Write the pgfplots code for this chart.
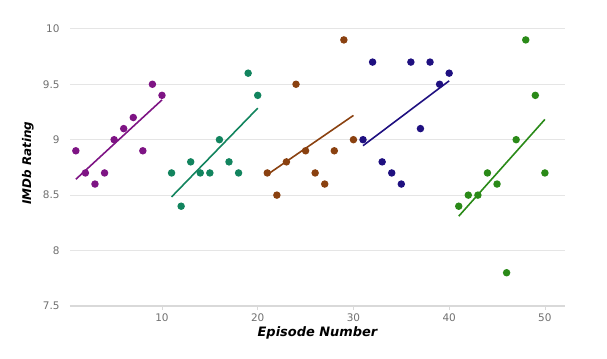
\documentclass[border=0pt]{standalone}
\usepackage{fontspec}
\setmainfont{DejaVu Sans}
\usepackage{pgfplots}
\pgfplotsset{compat=1.18}

\definecolor{sone}{HTML}{7E1484}
\definecolor{stwo}{HTML}{12845E}
\definecolor{sthree}{HTML}{8A4110}
\definecolor{sfour}{HTML}{1F1080}
\definecolor{sfive}{HTML}{2A8A18}
\definecolor{tickgray}{HTML}{707070}

\begin{document}
\begin{tikzpicture}
\begin{axis}[
  name=main,
  scale only axis,
  width=495bp, height=306bp,
  xmin=0.39, xmax=52.1,
  ymin=7.5, ymax=10.26,
  axis x line*=bottom,
  axis y line*=left,
  x axis line style={draw=black!15, line width=1.2pt, -},
  y axis line style={draw=none},
  xtick={10,20,30,40,50},
  ytick={7.5,8,8.5,9,9.5,10},
  yticklabels={7.5,8,8.5,9,9.5,10},
  major tick length=4pt,
  xtick style={draw=black!15, line width=0.8pt},
  ytick style={draw=none},
  tick align=outside,
  ymajorgrids,
  grid style={draw=black!10, line width=0.7pt},
  ticklabel style={font=\fontsize{10.5}{12}\selectfont, text=tickgray},
  /pgf/number format/assume math mode=true,
  yticklabel style={anchor=east, xshift=-3pt},
  xlabel={\bfseries\itshape Episode Number},
  ylabel={\bfseries\itshape IMDb Rating},
  xlabel style={font=\fontsize{13}{15}\selectfont,
    at={(axis description cs:0.5,-0.088)}, anchor=center},
  ylabel style={font=\fontsize{12}{14}\selectfont,
    at={(axis description cs:-0.085,0.467)}, anchor=center},
  clip=false,
  every axis plot/.append style={line width=1.6pt},
]
% season 1
\addplot[only marks, mark=*, mark size=2.9pt, color=sone] coordinates {
  (1,8.9) (2,8.7) (3,8.6) (4,8.7) (5,9.0) (6,9.1) (7,9.2) (8,8.9) (9,9.5) (10,9.4)};
\addplot[sone, no marks] coordinates {(1,8.643) (10,9.359)};
% season 2
\addplot[only marks, mark=*, mark size=2.9pt, color=stwo] coordinates {
  (11,8.7) (12,8.4) (13,8.8) (14,8.7) (15,8.7) (16,9.0) (17,8.8) (18,8.7) (19,9.6) (20,9.4)};
\addplot[stwo, no marks] coordinates {(11,8.484) (20,9.284)};
% season 3
\addplot[only marks, mark=*, mark size=2.9pt, color=sthree] coordinates {
  (21,8.7) (22,8.5) (23,8.8) (24,9.5) (25,8.9) (26,8.7) (27,8.6) (28,8.9) (29,9.9) (30,9.0)};
\addplot[sthree, no marks] coordinates {(21,8.685) (30,9.219)};
% season 4
\addplot[only marks, mark=*, mark size=2.9pt, color=sfour] coordinates {
  (31,9.0) (32,9.7) (33,8.8) (34,8.7) (35,8.6) (36,9.7) (37,9.1) (38,9.7) (39,9.5) (40,9.6)};
\addplot[sfour, no marks] coordinates {(31,8.946) (40,9.531)};
% season 5
\addplot[only marks, mark=*, mark size=2.9pt, color=sfive] coordinates {
  (41,8.4) (42,8.5) (43,8.5) (44,8.7) (45,8.6) (46,7.8) (47,9.0) (48,9.9) (49,9.4) (50,8.7)};
\addplot[sfive, no marks] coordinates {(41,8.31) (50,9.183)};
\end{axis}
% white margins as in the reference
\path (main.south west) ++(-70bp,-53bp) (main.north east) ++(42bp,0);
\end{tikzpicture}
\end{document}
